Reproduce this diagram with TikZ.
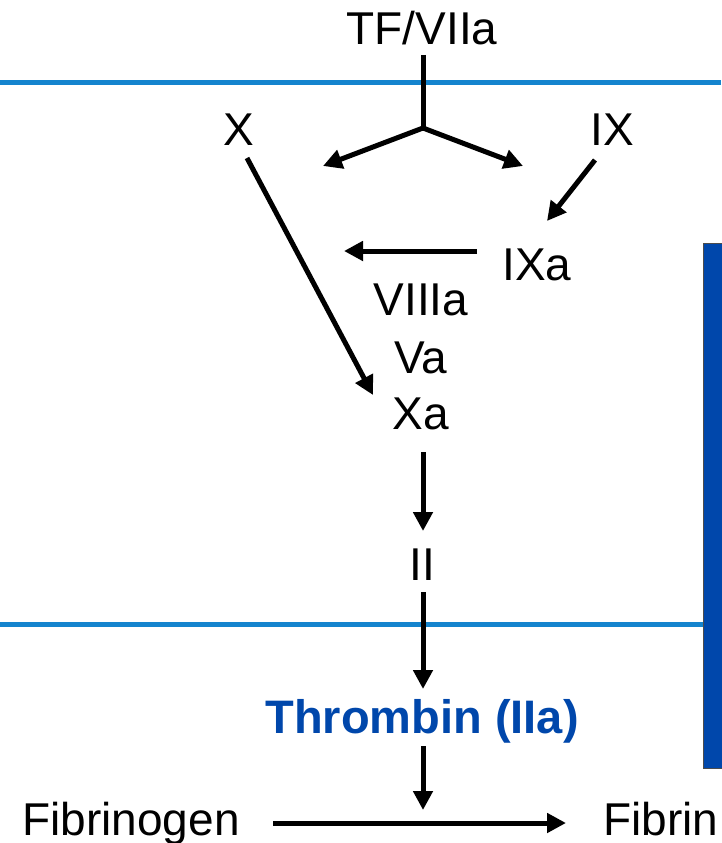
\documentclass[tikz,border=0pt]{standalone}
\usepackage{fontspec}
\setmainfont{Liberation Sans}
\usetikzlibrary{arrows.meta}
\definecolor{memblue}{RGB}{20,132,206}
\definecolor{darkblue}{RGB}{0,71,171}
\begin{document}
\begin{tikzpicture}[x=1pt,y=-1pt,
  lbl/.style={font=\fontsize{46}{50}\selectfont, inner sep=0pt, anchor=base},
  arr/.style={line width=5pt, -{Triangle[length=19pt,width=19pt]}},
  seg/.style={line width=5pt},
  membrane/.style={line width=5pt, draw=memblue}]
\useasboundingbox (0,0) rectangle (721,843);
% membranes
\draw[membrane] (0,82) -- (721,82);
\draw[membrane] (0,624) -- (721,624);
% cell bar on the right
\draw[fill=darkblue, draw=black!70, line width=1pt] (703.5,243.5) rectangle (730,768);
% factor labels
\node[lbl] (tf) at (422,45) {TF/VIIa};
\node[lbl] (x) at (239,145) {X};
\node[lbl] (ix) at (612,145) {IX};
\node[lbl] (ixa) at (537,280) {IXa};
\node[lbl] (viiia) at (421,315) {VIIIa};
\node[lbl] (va) at (421,373) {Va};
\node[lbl] (xa) at (421,429) {Xa};
\node[lbl] (ii) at (422,580) {II};
\node[lbl, font=\fontsize{47}{50}\selectfont\bfseries, text=darkblue] (thr) at (422,733) {Thrombin (IIa)};
\node[lbl] (fbg) at (131,835) {Fibrinogen};
\node[lbl] (fbn) at (661,835) {Fibrin};
% connector end points
\coordinate (j) at (423,128);
\coordinate (tfb) at (423,55);
\coordinate (jl) at (323,166);
\coordinate (jr) at (523,166);
\coordinate (ixs) at (595,160);
\coordinate (ixat) at (547,221);
\coordinate (ixal) at (477,251);
\coordinate (cof) at (344,251);
\coordinate (xs) at (247,158);
\coordinate (xat) at (373,395);
\coordinate (xab) at (423,452);
\coordinate (iit) at (423,531);
\coordinate (iib) at (423,592);
\coordinate (thrt) at (423,689);
\coordinate (thrb) at (423,746);
\coordinate (fx) at (423,810);
\coordinate (fbgr) at (273,823);
\coordinate (fbnl) at (566,823);
% connectors
\draw[seg] (tfb) -- (j);
\draw[arr] (j) -- (jl);
\draw[arr] (j) -- (jr);
\draw[arr] (ixs) -- (ixat);
\draw[arr] (ixal) -- (cof);
\draw[arr] (xs) -- (xat);
\draw[arr] (xab) -- (iit);
\draw[arr] (iib) -- (thrt);
\draw[arr] (thrb) -- (fx);
\draw[arr] (fbgr) -- (fbnl);
\end{tikzpicture}
\end{document}
